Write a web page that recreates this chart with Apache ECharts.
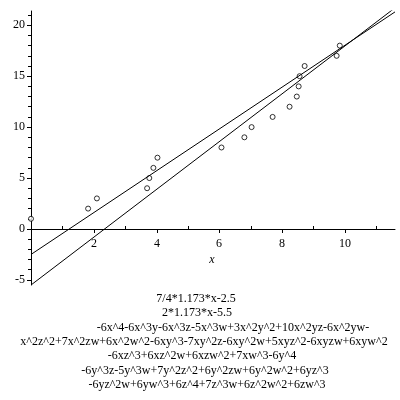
<!DOCTYPE html>
<html>
<head>
<meta charset="utf-8">
<script src="https://cdn.jsdelivr.net/npm/echarts@6/dist/echarts.min.js"></script>
<style>
  html, body { margin: 0; padding: 0; background: #fff; }
  #chart { width: 400px; height: 400px; }
</style>
</head>
<body>
<div id="chart"></div>
<script>
// data points
var pointX = [0, 1.82, 2.1, 3.7, 3.77, 3.9, 4.03, 6.07, 6.8, 7.03, 7.7, 8.24, 8.47, 8.53, 8.56, 8.72, 9.74, 9.84];
var pointY = [1, 2, 3, 4, 5, 6, 7, 8, 9, 10, 11, 12, 13, 14, 15, 16, 17, 18];

// the two fitted lines, ends only
var lineAX = [0, 11.6];
var lineAY = [-2.5, 21.31];
var lineBX = [0, 11.6];
var lineBY = [-5.5, 21.71];

var xLabels = [2, 4, 6, 8, 10];
var xMajor = [2, 4, 6, 8, 10];
var xMinor = [1, 3, 5, 7, 9, 11];
var yLabels = [-5, 0, 5, 10, 15, 20];
var yMinor = [-4, -3, -2, -1, 1, 2, 3, 4, 6, 7, 8, 9, 11, 12, 13, 14, 16, 17, 18, 19, 21];

var captionLines = [
  '7/4*1.173*x-2.5',
  '2*1.173*x-5.5',
  '-6x^4-6x^3y-6x^3z-5x^3w+3x^2y^2+10x^2yz-6x^2yw-',
  'x^2z^2+7x^2zw+6x^2w^2-6xy^3-7xy^2z-6xy^2w+5xyz^2-6xyzw+6xyw^2',
  '-6xz^3+6xz^2w+6xzw^2+7xw^3-6y^4',
  '-6y^3z-5y^3w+7y^2z^2+6y^2zw+6y^2w^2+6yz^3',
  '-6yz^2w+6yw^3+6z^4+7z^3w+6z^2w^2+6zw^3'
];
var captionX = [196, 197, 233, 204, 202, 205, 207];

function zip(a, b) {
  var out = [];
  for (var i = 0; i < a.length; i++) out.push([a[i], b[i]]);
  return out;
}

var font = '"Liberation Serif", "DejaVu Serif", serif';
var xMin = 0, xMax = 11.6, yMin = -5.5, yMax = 21.4;

var graphics = [];
for (var i = 0; i < captionLines.length; i++) {
  graphics.push({
    type: 'text',
    x: captionX[i],
    y: 299 + i * 14.3,
    style: {
      text: captionLines[i],
      font: '12px ' + font,
      fill: '#000',
      align: 'center',
      verticalAlign: 'middle'
    }
  });
}

var chart = echarts.init(document.getElementById('chart'));
chart.setOption({
  backgroundColor: '#fff',
  animation: false,
  grid: { left: 31, right: 5, top: 11, bottom: 115, containLabel: false },
  xAxis: {
    type: 'value', min: xMin, max: xMax,
    axisLine: { onZero: true, lineStyle: { color: '#000', width: 1 } },
    axisTick: { show: false },
    axisLabel: { show: false },
    splitLine: { show: false }
  },
  yAxis: [
    {
      type: 'value', min: yMin, max: yMax, position: 'left',
      axisLine: { onZero: false, lineStyle: { color: '#000', width: 1 } },
      axisTick: { show: true, customValues: yLabels, length: 4, lineStyle: { color: '#000' } },
      axisLabel: { customValues: yLabels, color: '#000', fontFamily: font, fontSize: 12, margin: 6 },
      splitLine: { show: false }
    },
    {
      type: 'value', min: yMin, max: yMax, position: 'left',
      axisLine: { show: false, onZero: false },
      axisTick: { show: true, customValues: yMinor, length: 3, lineStyle: { color: '#000' } },
      axisLabel: { show: false },
      splitLine: { show: false }
    }
  ],
  series: [
    {
      type: 'line', data: zip(lineAX, lineAY), showSymbol: false,
      lineStyle: { color: '#000', width: 1 }, silent: true
    },
    {
      type: 'line', data: zip(lineBX, lineBY), showSymbol: false,
      lineStyle: { color: '#000', width: 1 }, silent: true
    },
    {
      type: 'scatter', data: zip(pointX, pointY), symbol: 'circle', symbolSize: 5,
      clip: false,
      itemStyle: { color: '#fff', borderColor: '#000', borderWidth: 1 }
    }
  ],
  graphic: graphics
});

// x axis ticks, tick labels and title, placed through the chart's own scales
function px(v) {
  return chart.convertToPixel({ gridIndex: 0 }, [v, 0]);
}
var xParts = [];
xMajor.forEach(function (v) {
  var p = px(v);
  var cx = Math.round(p[0]) + 0.5, cy = Math.round(p[1]);
  xParts.push({ type: 'line', shape: { x1: cx, y1: cy, x2: cx, y2: cy + 4 }, style: { stroke: '#000', lineWidth: 1 } });
});
xMinor.forEach(function (v) {
  var p = px(v);
  var cx = Math.round(p[0]) + 0.5, cy = Math.round(p[1]);
  xParts.push({ type: 'line', shape: { x1: cx, y1: cy - 3, x2: cx, y2: cy }, style: { stroke: '#000', lineWidth: 1 } });
});
xLabels.forEach(function (v) {
  var p = px(v);
  xParts.push({
    type: 'text', x: Math.round(p[0]), y: Math.round(p[1]) + 15,
    style: { text: String(v), font: '12px ' + font, fill: '#000', align: 'center', verticalAlign: 'middle' }
  });
});
var mid = px((xMin + xMax) / 2);
xParts.push({
  type: 'text', x: mid[0] - 1, y: mid[1] + 31,
  style: { text: 'x', font: 'italic 12px ' + font, fill: '#000', align: 'center', verticalAlign: 'middle' }
});
chart.setOption({ graphic: graphics.concat(xParts) });
</script>
</body>
</html>
